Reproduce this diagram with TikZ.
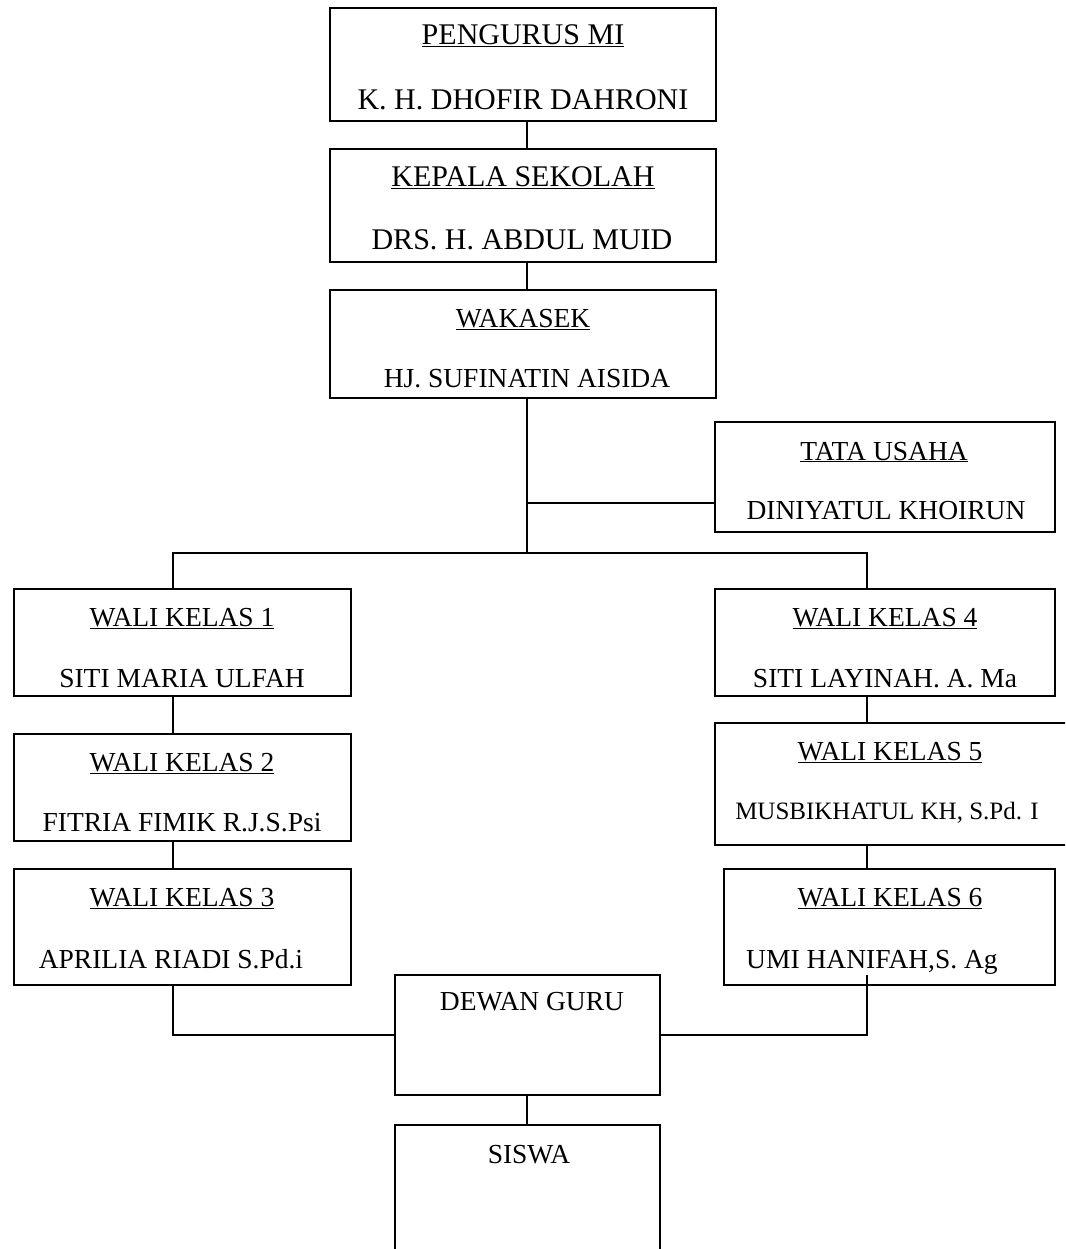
\documentclass[tikz,border=0pt]{standalone}
\usepackage{fontspec}
\setmainfont{Liberation Serif}
\begin{document}
\begin{tikzpicture}[x=1pt,y=-1pt,
  box/.style={draw,line width=1.6pt,rectangle,inner sep=0pt},
  lnk/.style={line width=1.6pt},
  big/.style={anchor=base,inner sep=0pt,font=\fontsize{30}{36}\selectfont},
  mid/.style={anchor=base,inner sep=0pt,font=\fontsize{27.5}{33}\selectfont},
  sml/.style={anchor=base,inner sep=0pt,font=\fontsize{25}{30}\selectfont}]
\useasboundingbox (0,0) rectangle (1065,1249);
\begin{scope}
\clip (0,0) rectangle (1065,1249);
\node[box,minimum width=386pt,minimum height=113pt] (peng) at (523,64.5) {};
\node[box,minimum width=386pt,minimum height=113pt] (kep) at (523,205.5) {};
\node[box,minimum width=386pt,minimum height=108pt] (wak) at (523,344) {};
\node[box,minimum width=340pt,minimum height=110pt] (tu) at (885,477) {};
\node[box,minimum width=337pt,minimum height=107pt] (w1) at (182.5,642.5) {};
\node[box,minimum width=337pt,minimum height=107pt] (w2) at (182.5,787.5) {};
\node[box,minimum width=337pt,minimum height=116pt] (w3) at (182.5,927) {};
\node[box,minimum width=340pt,minimum height=107pt] (w4) at (885,642.5) {};
\node[box,minimum width=360pt,minimum height=122pt] (w5) at (895,784) {};
\node[box,minimum width=331pt,minimum height=116pt] (w6) at (889.5,927) {};
\node[box,minimum width=265pt,minimum height=120pt] (dg) at (527.5,1035) {};
\node[box,minimum width=265pt,minimum height=140pt] (sis) at (527.5,1195) {};

\coordinate (bm) at (527,553);
\coordinate (bl) at (173,553);
\coordinate (br) at (867,553);
\coordinate (junc) at (527,503);
\coordinate (tail) at (867,975);

\draw[lnk] (peng.south -| bm) -- (kep.north -| bm);
\draw[lnk] (kep.south -| bm) -- (wak.north -| bm);
\draw[lnk] (wak.south -| bm) -- (bm);
\draw[lnk] (junc) -- (junc -| tu.west);
\draw[lnk] (bl |- w1.north) -- (bl) -- (br) -- (br |- w4.north);
\draw[lnk] (bl |- w1.south) -- (bl |- w2.north);
\draw[lnk] (bl |- w2.south) -- (bl |- w3.north);
\draw[lnk] (br |- w4.south) -- (br |- w5.north);
\draw[lnk] (br |- w5.south) -- (br |- w6.north);
\draw[lnk] (bl |- w3.south) -- (bl |- dg.west) -- (dg.west);
\draw[lnk] (dg.east) -- (br |- dg.east) -- (tail);
\draw[lnk] (dg.south -| bm) -- (bm |- sis.north);
\end{scope}

\node[big] (t1) at (523,45) {\underline{PENGURUS MI}};
\node[big] (n1) at (523,110) {K. H. DHOFIR DAHRONI};
\node[big] (t2) at (523,187) {\underline{KEPALA SEKOLAH}};
\node[big] (n2) at (522,250) {DRS. H. ABDUL MUID};
\node[mid] (t3) at (523,327) {\underline{WAKASEK}};
\node[mid] (n3) at (527,387) {HJ. SUFINATIN AISIDA};
\node[mid] (t4) at (884,460) {\underline{TATA USAHA}};
\node[mid] (n4) at (886,519) {DINIYATUL KHOIRUN};
\node[mid] (t5) at (182,626) {\underline{WALI KELAS 1}};
\node[mid] (n5) at (182,687) {SITI MARIA ULFAH};
\node[mid] (t6) at (182,771) {\underline{WALI KELAS 2}};
\node[mid] (n6) at (182,831) {FITRIA FIMIK R.J.S.Psi};
\node[mid] (t7) at (182,906) {\underline{WALI KELAS 3}};
\node[mid] (n7) at (171,968) {APRILIA RIADI S.Pd.i};
\node[mid] (t8) at (885,626) {\underline{WALI KELAS 4}};
\node[mid] (n8) at (885,687) {SITI LAYINAH. A. Ma};
\node[mid] (t9) at (890,760) {\underline{WALI KELAS 5}};
\node[sml] (n9) at (887,819) {MUSBIKHATUL KH, S.Pd. I};
\node[mid] (t10) at (890,906) {\underline{WALI KELAS 6}};
\node[mid] (n10) at (872,968) {UMI HANIFAH,S. Ag};
\node[mid] (t11) at (532,1010) {DEWAN GURU};
\node[mid] (t12) at (529,1163) {SISWA};
\end{tikzpicture}
\end{document}
